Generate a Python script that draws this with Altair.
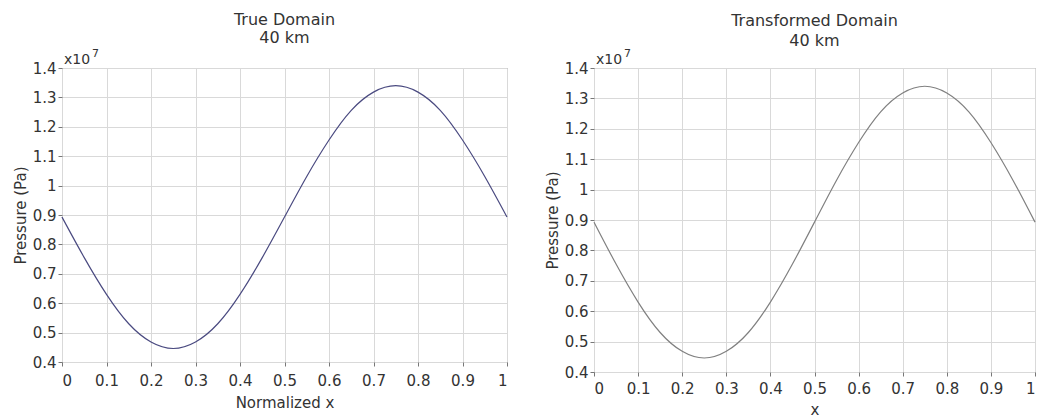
import altair as alt
import pandas as pd

# x positions (normalized) and pressure values in units of 1e7 Pa
x_vals = [0, 0.05, 0.1, 0.15, 0.2, 0.25, 0.3, 0.35, 0.4, 0.45, 0.5,
          0.55, 0.6, 0.65, 0.7, 0.75, 0.8, 0.85, 0.9, 0.95, 1.0]
p_true = [0.893, 0.755, 0.630, 0.530, 0.468, 0.446, 0.468, 0.530, 0.630, 0.755, 0.893,
          1.031, 1.155, 1.256, 1.318, 1.340, 1.318, 1.256, 1.155, 1.031, 0.893]
p_trans = [0.893, 0.755, 0.630, 0.530, 0.468, 0.446, 0.468, 0.530, 0.630, 0.755, 0.893,
           1.031, 1.155, 1.256, 1.318, 1.340, 1.318, 1.256, 1.155, 1.031, 0.893]
x_ticks = [0, 0.1, 0.2, 0.3, 0.4, 0.5, 0.6, 0.7, 0.8, 0.9, 1]
y_ticks = [0.4, 0.5, 0.6, 0.7, 0.8, 0.9, 1.0, 1.1, 1.2, 1.3, 1.4]

FONT = "DejaVu Sans"


def panel(xs, ps, title, xtitle, color, w, h, title_offset, line_h,
          xlabel_pad, xtitle_pad):
    df = pd.DataFrame({"x": xs, "p": ps})
    base = alt.Chart(df)
    line = base.mark_line(color=color, strokeWidth=1.2, interpolate="natural").encode(
        x=alt.X("x:Q", scale=alt.Scale(domain=[0, 1], nice=False),
                axis=alt.Axis(values=x_ticks, format="~g", title=xtitle,
                              grid=True, gridColor="#d9d9d9", tickColor="#777",
                              tickSize=4, domain=False, labelPadding=xlabel_pad,
                              titlePadding=xtitle_pad)),
        y=alt.Y("p:Q", scale=alt.Scale(domain=[0.4, 1.4], nice=False, zero=False),
                axis=alt.Axis(values=y_ticks, format="~g", title="Pressure (Pa)",
                              grid=True, gridColor="#d9d9d9", tickColor="#777",
                              tickSize=4, domain=False, labelPadding=2,
                              titlePadding=4)),
    )
    exp_base = alt.Chart(pd.DataFrame({"t": ["x10"]})).mark_text(
        align="left", baseline="bottom", font=FONT, fontSize=14, color="#333"
    ).encode(text="t:N", x=alt.value(2), y=alt.value(-1))
    exp_sup = alt.Chart(pd.DataFrame({"t": ["7"]})).mark_text(
        align="left", baseline="bottom", font=FONT, fontSize=11, color="#333"
    ).encode(text="t:N", x=alt.value(30), y=alt.value(-9))
    return alt.layer(line, exp_base, exp_sup).properties(
        width=w, height=h,
        title=alt.TitleParams(text=[title, "40 km"], fontSize=16, fontWeight="normal",
                              font=FONT, color="#333", offset=title_offset,
                              lineHeight=line_h),
    )


left = panel(x_vals, p_true, "True Domain", "Normalized x", "#4a4a80",
             445, 294, 2, 18, 7, 7)
right = panel(x_vals, p_trans, "Transformed Domain", "x", "#808080",
              441, 304, -1, 20, 5, 6)

chart = alt.hconcat(left, right, spacing=34).properties(
    padding={"left": 12, "top": 11, "right": 5, "bottom": 0},
    background="white",
).configure_view(stroke="#888", strokeWidth=1).configure_axis(
    labelFont=FONT, titleFont=FONT, labelFontSize=15, titleFontSize=15,
    labelColor="#333", titleColor="#333", titleFontWeight="normal",
).configure_concat(spacing=34)

chart.save("out.html", embed_options={"renderer": "svg", "actions": False})
